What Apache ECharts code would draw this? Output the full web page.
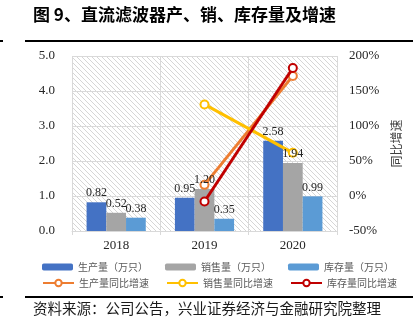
<!DOCTYPE html>
<html>
<head>
<meta charset="utf-8">
<script src="https://cdn.jsdelivr.net/npm/echarts@6/dist/echarts.min.js"></script>
<style>
  html, body { margin: 0; padding: 0; background: #ffffff; }
  #chart { width: 418px; height: 333px; }
</style>
</head>
<body>
<div id="chart"></div>
<script>
// Years on the category axis
var years = ['2018', '2019', '2020'];

// Volumes (万只)
var production = [0.82, 0.95, 2.58];
var sales = [0.52, 1.20, 1.94];
var inventory = [0.38, 0.35, 0.99];

// Year-on-year growth (%)
var productionYoY = [null, 15.9, 171.6];
var salesYoY = [null, 130.8, 61.7];
var inventoryYoY = [null, -7.9, 182.9];

// Axis ticks
var leftTicks = [0, 1, 2, 3, 4, 5];
var rightTicks = [-50, 0, 50, 100, 150, 200];

var titleText = '图 9、直流滤波器产、销、库存量及增速';
var sourceText = '资料来源：公司公告，兴业证券经济与金融研究院整理';
var rightAxisName = '同比增速';
var barNames = ['生产量（万只）', '销售量（万只）', '库存量（万只）'];
var lineNames = ['生产量同比增速', '销售量同比增速', '库存量同比增速'];

var serif = '"Liberation Serif", "Times New Roman", serif';
var cjk = '"Noto Sans CJK SC", sans-serif';

// Diagonal hatch tile for the plot background
function hatchTile() {
  var s = 5;
  var c = document.createElement('canvas');
  c.width = s; c.height = s;
  var g = c.getContext('2d');
  g.fillStyle = '#ffffff';
  g.fillRect(0, 0, s, s);
  g.strokeStyle = '#d6d6d6';
  g.lineWidth = 1;
  g.beginPath();
  g.moveTo(-1, -1); g.lineTo(s + 1, s + 1);
  g.moveTo(-1, s - 1); g.lineTo(1, s + 1);
  g.moveTo(s - 1, -1); g.lineTo(s + 1, 1);
  g.stroke();
  return c;
}

var chart = echarts.init(document.getElementById('chart'), null, { renderer: 'canvas' });

var barColors = ['#4472C4', '#A5A5A5', '#5B9BD5'];
var lineColors = ['#ED7D31', '#FFC000', '#C00000'];
var barData = [production, sales, inventory];
var lineData = [productionYoY, salesYoY, inventoryYoY];

var valueLabel = {
  show: true,
  position: 'top',
  distance: 3,
  fontFamily: serif,
  fontSize: 12,
  color: '#262626',
  formatter: function (p) { return p.value.toFixed(2); }
};

var series = [];
// Filled bars
barData.forEach(function (d, i) {
  series.push({
    name: barNames[i],
    type: 'bar',
    data: d,
    barGap: '0%',
    barCategoryGap: '33%',
    itemStyle: { color: barColors[i] },
    z: 2
  });
});
// Growth lines drawn over the bars
lineData.forEach(function (d, i) {
  series.push({
    name: lineNames[i],
    type: 'line',
    yAxisIndex: 1,
    data: d,
    symbol: 'emptyCircle',
    symbolSize: 8,
    lineStyle: { color: lineColors[i], width: 3 },
    itemStyle: { color: lineColors[i], borderColor: lineColors[i], borderWidth: 2 },
    z: 3 + i
  });
});
// Value labels on a twin axis pair so they sit above the lines
barData.forEach(function (d, i) {
  series.push({
    name: barNames[i] + ' 数值',
    type: 'bar',
    xAxisIndex: 1,
    yAxisIndex: 2,
    data: d,
    barGap: '0%',
    barCategoryGap: '33%',
    itemStyle: { color: 'rgba(0,0,0,0)' },
    label: valueLabel,
    silent: true,
    z: 10
  });
});

var option = {
  animation: false,
  backgroundColor: '#ffffff',
  grid: {
    left: 72, right: 81, top: 56, bottom: 102,
    show: true,
    borderWidth: 0,
    backgroundColor: { image: hatchTile(), repeat: 'repeat' }
  },
  legend: [
    {
      data: barNames,
      left: 42, top: 262,
      padding: 0,
      itemWidth: 31, itemHeight: 7,
      itemGap: 17,
      textStyle: { fontFamily: cjk, fontSize: 10, color: '#595959' }
    },
    {
      data: lineNames,
      left: 42, top: 278,
      padding: 0,
      itemWidth: 31, itemHeight: 8,
      itemGap: 17,
      textStyle: { fontFamily: cjk, fontSize: 10, color: '#595959' }
    }
  ],
  xAxis: [
    {
      type: 'category',
      data: years,
      axisLine: { show: true, lineStyle: { color: '#d9d9d9', width: 1 } },
      axisTick: { show: true, length: 4, lineStyle: { color: '#d9d9d9' } },
      splitLine: { show: true, lineStyle: { color: '#d9d9d9', width: 1 } },
      axisLabel: { fontFamily: serif, fontSize: 13, color: '#262626', margin: 8 }
    },
    {
      type: 'category',
      data: years,
      show: false
    }
  ],
  yAxis: [
    {
      type: 'value',
      min: leftTicks[0], max: leftTicks[leftTicks.length - 1], interval: 1,
      axisLine: { show: false },
      axisTick: { show: false },
      splitLine: { show: true, lineStyle: { color: '#d9d9d9', width: 1 } },
      axisLabel: {
        fontFamily: serif, fontSize: 13, color: '#262626', margin: 17,
        formatter: function (v) { return v.toFixed(1); }
      }
    },
    {
      type: 'value',
      min: rightTicks[0], max: rightTicks[rightTicks.length - 1], interval: 50,
      axisLine: { show: false },
      axisTick: { show: false },
      splitLine: { show: false },
      axisLabel: {
        fontFamily: serif, fontSize: 13, color: '#262626', margin: 12,
        formatter: '{value}%'
      },
      name: rightAxisName,
      nameLocation: 'middle',
      nameRotate: 90,
      nameGap: 50,
      nameTextStyle: { fontFamily: cjk, fontSize: 12, color: '#404040' }
    },
    {
      type: 'value',
      min: leftTicks[0], max: leftTicks[leftTicks.length - 1], interval: 1,
      show: false
    }
  ],
  series: series,
  graphic: [
    {
      type: 'text', left: 33, top: 6,
      style: { text: titleText, font: 'bold 17px ' + cjk, fill: '#000000' }
    },
    { type: 'rect', shape: { x: 25, y: 40, width: 388, height: 2 }, style: { fill: '#000000' } },
    { type: 'rect', shape: { x: 0, y: 40, width: 3, height: 2 }, style: { fill: '#000000' } },
    { type: 'rect', shape: { x: 25, y: 296, width: 388, height: 2 }, style: { fill: '#000000' } },
    { type: 'rect', shape: { x: 0, y: 296, width: 3, height: 2 }, style: { fill: '#000000' } },
    {
      type: 'text', left: 33, top: 301,
      style: { text: sourceText, font: '14.5px ' + cjk, fill: '#1a1a1a' }
    }
  ]
};

chart.setOption(option);
</script>
</body>
</html>
